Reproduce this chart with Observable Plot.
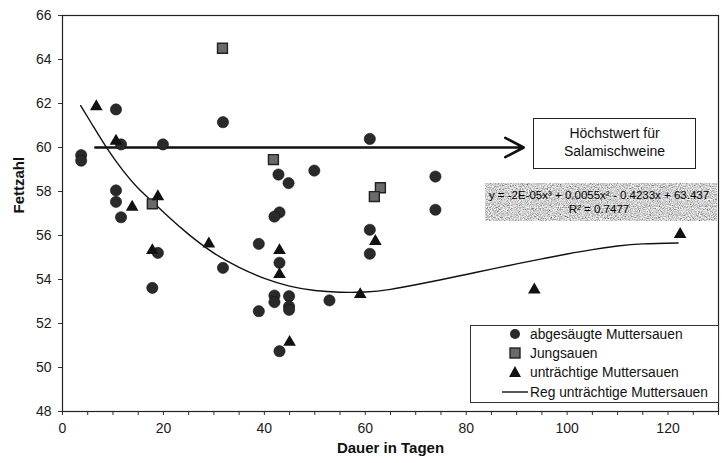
<!DOCTYPE html>
<html>
<head>
<meta charset="utf-8">
<script src="https://cdn.jsdelivr.net/npm/d3@7"></script>
<script src="https://cdn.jsdelivr.net/npm/@observablehq/plot@0.6"></script>
<style>
  html, body { margin: 0; padding: 0; background: #fff; }
  #wrap { position: relative; width: 722px; height: 463px; font-family: "Liberation Sans", Arial, sans-serif; color: #111; }
  .ann { position: absolute; box-sizing: border-box; }
</style>
</head>
<body>
<div id="wrap"></div>
<script>
// ---- Data ----
const xLabel = "Dauer in Tagen";
const yLabel = "Fettzahl";
const xTicks = [0,5,10,15,20,25,30,35,40,45,50,55,60,65,70,75,80,85,90,95,100,105,110,115,120,125,130];
const xTickLabels = [0,20,40,60,80,100,120];
const yTicks = [48,50,52,54,56,58,60,62,64,66];

const seriesNames = ["abgesäugte Muttersauen", "Jungsauen", "unträchtige Muttersauen", "Reg unträchtige Muttersauen"];

// abgesäugte Muttersauen
const abgX = [3.7,3.7,10.6,11.6,19.9,31.8,10.6,10.6,11.6,18.9,17.8,31.8,60.9,42.8,44.8,49.9,73.9,73.9,43.0,42.0,38.9,60.9,60.9,43.0,42.0,42.0,44.9,44.9,44.9,52.9,38.9,43.0];
const abgY = [59.65,59.4,61.73,60.14,60.14,61.15,58.05,57.53,56.83,55.21,53.62,54.53,60.39,58.77,58.38,58.95,58.68,57.17,57.05,56.86,55.62,56.26,55.17,54.76,53.27,52.97,53.24,52.78,52.62,53.05,52.56,50.74];

// Jungsauen
const jungX = [31.7,41.8,63.0,61.8,17.8];
const jungY = [64.51,59.45,58.17,57.77,57.44];

// unträchtige Muttersauen
const untX = [6.7,10.6,13.8,18.9,17.8,29.0,43.0,43.0,62.0,59.0,45.0,122.4,93.5];
const untY = [61.86,60.29,57.29,57.77,55.32,55.62,55.32,54.23,55.74,53.32,51.15,56.05,53.53];

// Regression curve
const regX = [3.6,6,9,12,15,18,21,25,30,35,40,45,50,55,60,65,70,75,80,85,90,95,100,105,110,115,122];
const regY = [61.9,61.0,59.9,58.95,58.15,57.5,56.85,56.05,55.2,54.55,54.05,53.7,53.5,53.42,53.43,53.55,53.76,53.99,54.23,54.47,54.71,54.94,55.16,55.36,55.52,55.62,55.66];

// Höchstwert arrow
const arrowX = [6.5, 91.4];
const arrowY = [60, 60];

const noteLines = ["Höchstwert für", "Salamischweine"];
const eqLines = ["y = -2E-05x³ + 0.0055x² - 0.4233x + 63.437", "R² = 0.7477"];

// ---- Build tables ----
const zip = (xs, ys) => xs.map((x, i) => ({x, y: ys[i]}));
const abg = zip(abgX, abgY);
const jung = zip(jungX, jungY);
const unt = zip(untX, untY);
const reg = zip(regX, regY);
const arrow = [{x1: arrowX[0], y1: arrowY[0], x2: arrowX[1], y2: arrowY[1]}];

const font = "'Liberation Sans', Arial, sans-serif";

const chart = Plot.plot({
  width: 722,
  height: 463,
  marginLeft: 62,
  marginRight: 4,
  marginTop: 15,
  marginBottom: 52,
  style: {fontFamily: font, fontSize: "14px", color: "#1a1a1a", background: "#fff", overflow: "visible"},
  x: {domain: [0, 130]},
  y: {domain: [48, 66]},
  marks: [
    Plot.axisX({ticks: xTicks, tickFormat: d => xTickLabels.includes(d) ? String(d) : "", tickSize: 4, tickPadding: 8, label: null, stroke: "#333"}),
    Plot.axisY({ticks: yTicks, tickFormat: d => String(d), tickSize: 4, tickPadding: 7, label: null, stroke: "#333"}),
    Plot.frame({stroke: "#222", strokeWidth: 1.2}),
    Plot.text([xLabel], {text: d => d, frameAnchor: "bottom", dy: 41, fontWeight: "bold", fontSize: 15, fill: "#111"}),
    Plot.text([yLabel], {text: d => d, frameAnchor: "left", dx: -43, rotate: -90, fontWeight: "bold", fontSize: 15, fill: "#111"}),
    Plot.arrow(arrow, {x1: "x1", y1: "y1", x2: "x2", y2: "y2", stroke: "#111", strokeWidth: 2.6, headLength: 12, headAngle: 55}),
    Plot.line(reg, {x: "x", y: "y", curve: "natural", stroke: "#111", strokeWidth: 1.4}),
    Plot.dot(abg, {x: "x", y: "y", r: 5.6, fill: "#2a2a2a", stroke: "#111", strokeWidth: 0.6}),
    Plot.dot(jung, {x: "x", y: "y", symbol: "square", r: 5.6, fill: "#6a6a6a", stroke: "#222", strokeWidth: 1.4}),
    Plot.dot(unt, {x: "x", y: "y", symbol: "triangle", r: 4.7, fill: "#111", stroke: "none"})
  ]
});

const wrap = document.getElementById("wrap");
wrap.appendChild(chart);

// ---- Annotation: Höchstwert box ----
const note = document.createElement("div");
note.className = "ann";
Object.assign(note.style, {left: "533px", top: "118px", width: "163px", height: "51px", border: "1px solid #222",
  background: "#fff", textAlign: "center", fontSize: "14px", lineHeight: "18px", paddingTop: "5px", fontFamily: font, color: "#111"});
note.innerHTML = noteLines.join("<br>");
wrap.appendChild(note);

// ---- Annotation: equation with speckled grey background ----
const eqNS = "http://www.w3.org/2000/svg";
const eq = document.createElementNS(eqNS, "svg");
eq.setAttribute("width", 232);
eq.setAttribute("height", 38);
eq.setAttribute("class", "ann");
eq.style.left = "485px";
eq.style.top = "183px";
eq.innerHTML = `
  <defs>
    <filter id="speck" x="0" y="0" width="100%" height="100%">
      <feTurbulence type="fractalNoise" baseFrequency="0.9" numOctaves="3" seed="7" result="n"/>
      <feColorMatrix in="n" type="matrix" values="1.5 0 0 0 -0.12  1.5 0 0 0 -0.12  1.5 0 0 0 -0.12  0 0 0 0 1"/>
    </filter>
  </defs>
  <rect x="0" y="0" width="232" height="38" filter="url(#speck)"/>
  <text x="114" y="16" text-anchor="middle" font-family="${font}" font-size="11.5" fill="#000">${eqLines[0]}</text>
  <text x="114" y="30" text-anchor="middle" font-family="${font}" font-size="11.5" fill="#000">${eqLines[1]}</text>`;
wrap.appendChild(eq);

// ---- Legend ----
const leg = document.createElementNS(eqNS, "svg");
leg.setAttribute("width", 249);
leg.setAttribute("height", 78);
leg.setAttribute("class", "ann");
leg.style.left = "470px";
leg.style.top = "325px";
const rows = [9, 28, 47, 67];
const sx = 45, tx = 60;
leg.innerHTML = `
  <rect x="0.5" y="0.5" width="248" height="77" fill="#fff" stroke="#333" stroke-width="1"/>
  <circle cx="${sx}" cy="${rows[0]}" r="5" fill="#2a2a2a"/>
  <rect x="${sx-5}" y="${rows[1]-5}" width="10" height="10" fill="#6a6a6a" stroke="#222" stroke-width="1.4"/>
  <path d="M${sx-6},${rows[2]+5} L${sx},${rows[2]-6} L${sx+6},${rows[2]+5} Z" fill="#111"/>
  <line x1="32" x2="58" y1="${rows[3]}" y2="${rows[3]}" stroke="#111" stroke-width="1.4"/>
  ${seriesNames.map((s, i) => `<text x="${tx}" y="${rows[i]}" dy="0.35em" font-family="${font}" font-size="13.8" fill="#111">${s}</text>`).join("")}
`;
wrap.appendChild(leg);
</script>
</body>
</html>
